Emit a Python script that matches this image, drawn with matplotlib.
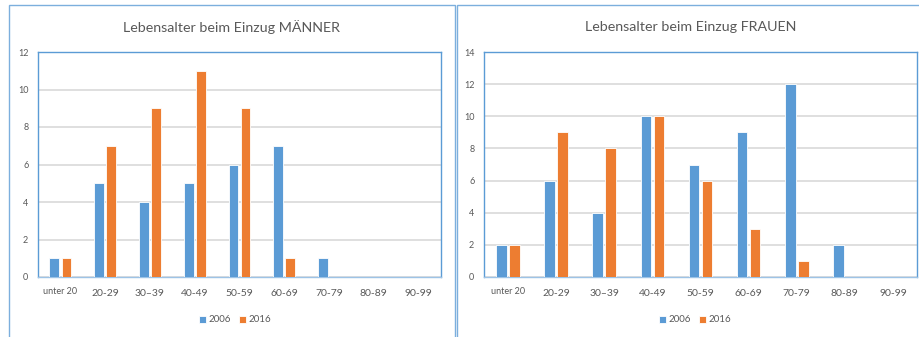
import numpy as np
import matplotlib
matplotlib.use("Agg")
import matplotlib.pyplot as plt
from matplotlib.patches import Rectangle

age_groups = ["unter 20", "20-29", "30\u201339", "40-49", "50-59", "60-69", "70-79", "80-89", "90-99"]
years = ["2006", "2016"]

men_2006 = [1, 5, 4, 5, 6, 7, 1, 0, 0]
men_2016 = [1, 7, 9, 11, 9, 1, 0, 0, 0]
women_2006 = [2, 6, 4, 10, 7, 9, 12, 2, 0]
women_2016 = [2, 9, 8, 10, 6, 3, 1, 0, 0]

BLUE = "#5B9BD5"
ORANGE = "#ED7D31"
TEXT = "#595959"
GRID = "#D9D9D9"
FRAME = "#5B9BD5"

plt.rcParams["font.family"] = ["Lato", "DejaVu Sans"]

W, H = 920, 337
fig = plt.figure(figsize=(W / 100, H / 100), dpi=100)


def px_rect(x0, y0, x1, y1):
    # pixel box (top-left origin) -> figure fraction [left, bottom, width, height]
    return [x0 / W, 1 - y1 / H, (x1 - x0) / W, (y1 - y0) / H]


def draw_panel(outer, inner, title, s1, s2, ymax, legend_x):
    l, b, w, h = px_rect(*outer)
    fig.patches.append(Rectangle((l, b), w, h, transform=fig.transFigure,
                                 fill=False, edgecolor=FRAME, linewidth=1.0, alpha=0.8))
    ax = fig.add_axes(px_rect(*inner))
    x = np.arange(len(age_groups))
    bw = 0.22
    gap = 0.025
    ax.bar(x - bw / 2 - gap, s1, bw, color=BLUE, edgecolor="white", linewidth=0.6,
           label=years[0], zorder=3)
    ax.bar(x + bw / 2 + gap, s2, bw, color=ORANGE, edgecolor="white", linewidth=0.6,
           label=years[1], zorder=3)
    ax.set_xlim(-0.5, len(age_groups) - 0.5)
    ax.set_ylim(0, ymax)
    ax.set_yticks(np.arange(0, ymax + 1, 2))
    ax.yaxis.grid(True, color=GRID, linewidth=1.2, zorder=0)
    ax.set_axisbelow(True)
    for sp in ax.spines.values():
        sp.set_color(FRAME)
        sp.set_linewidth(1.0)
    ax.spines["bottom"].set_color("#9DC3E6")
    ax.tick_params(length=0, colors=TEXT, labelsize=6.5)
    ax.tick_params(axis="y", pad=7)
    ax.tick_params(axis="x", pad=9)
    ax.set_xticks(x)
    ax.set_xticklabels(age_groups, fontsize=7.5, color=TEXT)
    ax.get_xticklabels()[0].set_fontsize(6.5)
    ax.get_xticklabels()[0].set_y(0.012)
    tx = (outer[0] + outer[2]) / 2 / W
    fig.text(tx, 1 - 27 / H, title, ha="center", va="center", fontsize=10.3, color=TEXT)
    fig.legend(handles=[c.patches[0] for c in ax.containers],
               labels=years, loc="center", bbox_to_anchor=(legend_x / W, 1 - 320 / H),
               ncol=2, frameon=False, fontsize=7, labelcolor=TEXT,
               handlelength=0.7, handleheight=0.7, handletextpad=0.3, columnspacing=0.8)
    return ax


draw_panel((9, 5, 455, 345), (38, 52, 441, 277), "Lebensalter beim Einzug M\u00c4NNER",
           men_2006, men_2016, 12, 235)
draw_panel((457, 5, 925, 345), (484, 52, 917, 277), "Lebensalter beim Einzug FRAUEN",
           women_2006, women_2016, 14, 695)

fig.savefig("out.png", dpi=100)
